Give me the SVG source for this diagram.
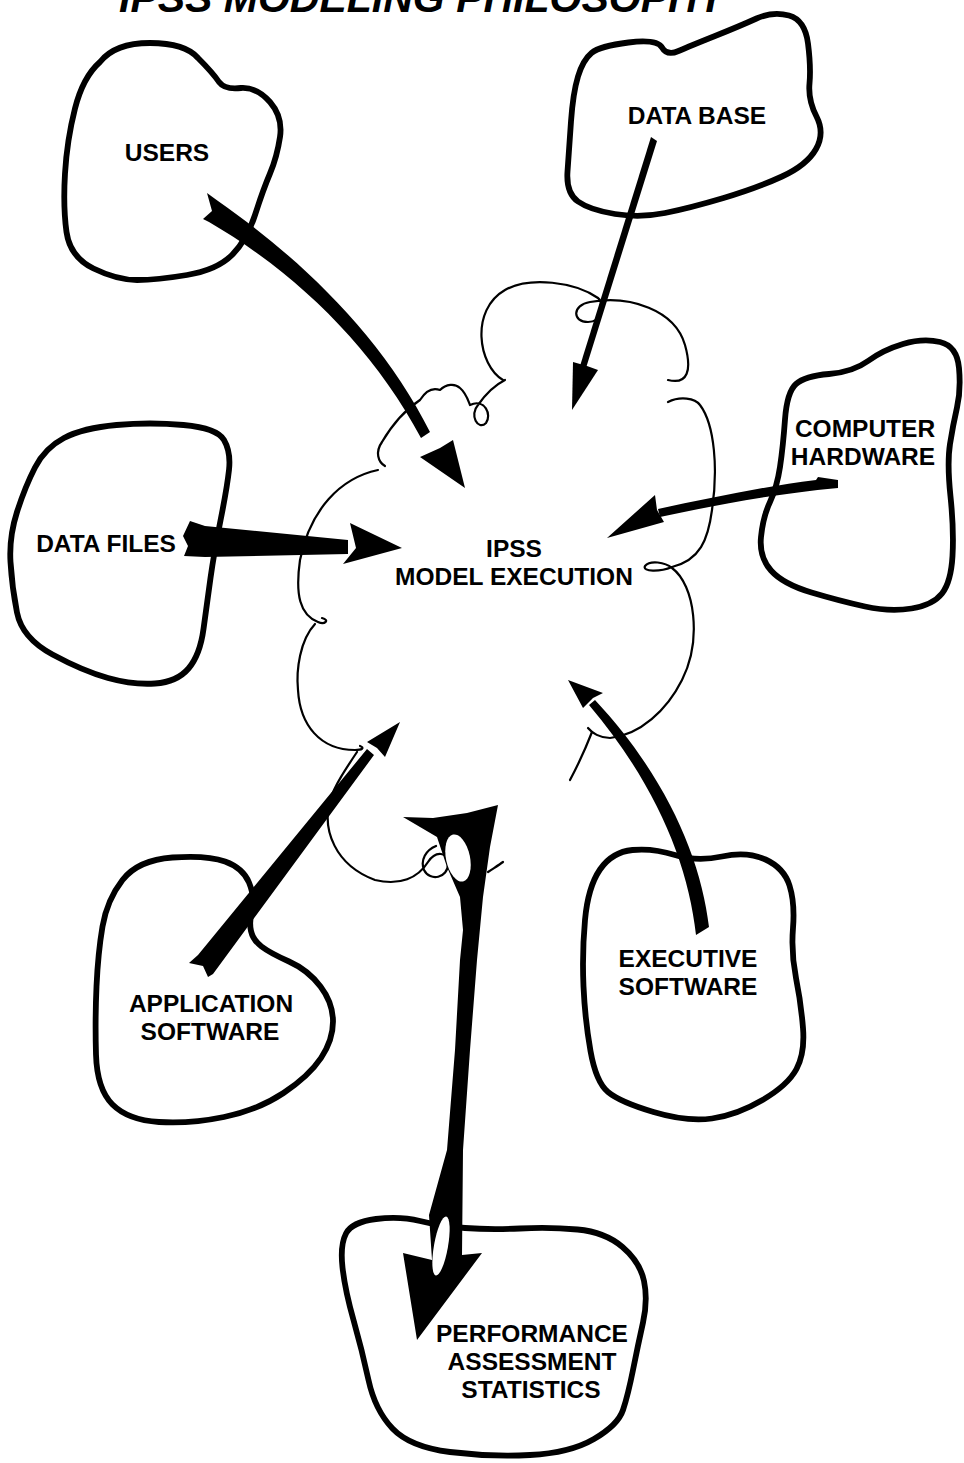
<svg xmlns="http://www.w3.org/2000/svg" width="964" height="1463" viewBox="0 0 964 1463">
<style>
.blob{fill:none;stroke:#000;stroke-width:5.8;stroke-linejoin:round}
.cloud{fill:none;stroke:#000;stroke-width:2.2;stroke-linecap:round;stroke-linejoin:round}
.arr{fill:#000;stroke:none}
.lbl{font-family:"Liberation Sans",Arial,sans-serif;font-weight:bold;font-size:24.5px;fill:#000;text-anchor:middle}
.title{font-family:"Liberation Sans",Arial,sans-serif;font-weight:bold;font-style:italic;font-size:41px;fill:#000;text-anchor:middle}
.spot{fill:#fff;stroke:none}
</style>
<rect x="0" y="0" width="964" height="1463" fill="#fff"/>
<text class="title" x="422" y="12">IPSS MODELING PHILOSOPHY</text>

<g id="cloud-center">
<path class="cloud" d="M503,380 C478,365 470,310 505,290 C530,276 575,282 598,298 C606,304 602,322 588,322 C572,322 572,305 590,302 C630,295 675,310 685,345 C692,370 688,385 668,380"/>
<path class="cloud" d="M668,402 C680,396 695,398 700,405 C715,425 718,470 712,510 C708,540 700,560 672,567 C660,572 642,572 645,566 C650,560 665,562 672,568 C695,585 702,640 682,680 C667,710 640,735 610,738 C600,738 592,733 588,728"/>
<path class="cloud" d="M592,732 C585,750 578,765 570,780"/>
<path class="cloud" d="M385,466 C378,462 375,452 382,442 C392,425 405,410 420,400 C425,392 432,387 440,390 C446,384 455,383 460,388 C466,393 468,400 470,405 C485,398 492,415 486,423 C478,431 469,415 478,405 C485,395 495,385 505,380"/>
<path class="cloud" d="M378,470 C340,478 310,510 300,560 C295,595 300,615 318,622 C325,625 330,620 322,618"/>
<path class="cloud" d="M315,624 C300,640 296,670 298,690 C300,725 320,750 355,750 C362,750 365,748 360,746"/>
<path class="cloud" d="M357,752 C345,770 335,785 330,800 C322,830 335,865 375,880 C400,886 418,878 428,862 C436,850 448,852 448,864 C448,878 430,882 424,870 C420,860 426,850 436,846"/>
<path class="cloud" d="M488,872 C494,868 499,865 503,862"/>
<text class="lbl" x="514" y="557">IPSS</text>
<text class="lbl" x="514" y="585">MODEL EXECUTION</text>
</g>

<g id="users">
<path class="blob" d="M100,62 Q115,43 150,43 Q185,43 198,58 Q213,73 219,82 Q225,90 241,88 Q257,87 270,102 Q283,117 280,137 Q277,157 270,173.5 Q263,190 255,215 Q247,240 232,255 Q217,270 187,275 Q157,280 137,280 Q117,280 93.5,268.5 Q70,257 66.5,232 Q63,207 65,173.5 Q67,140 75,108.5 Q83,77 100,62 Z"/>
<text class="lbl" x="167" y="161">USERS</text>
</g>

<g id="data-base">
<path class="blob" d="M591.5,53 Q600,46 628.5,42.5 Q657,39 662,47.5 Q667,56 678.5,51 Q690,46 715,36 Q740,26 756.5,18.5 Q773,11 789,15.5 Q805,20 808,43.5 Q811,67 809.5,83.5 Q808,100 816.5,116.5 Q825,133 816,149 Q807,165 782,176.5 Q757,188 723.5,198 Q690,208 665,213 Q640,218 615,214 Q590,210 578,201.5 Q566,193 567.5,171.5 Q569,150 571,121.5 Q573,93 578,76.5 Q583,60 591.5,53 Z"/>
<text class="lbl" x="697" y="124">DATA BASE</text>
</g>

<g id="computer-hardware">
<path class="blob" d="M796,384 Q805,376 829,374 Q853,372 868,361 Q883,350 903,344 Q923,338 940,342 Q957,346 959,368 Q961,390 957,407.5 Q953,425 950,444 Q947,463 950.5,496.5 Q954,530 952.5,556 Q951,582 942,593.5 Q933,605 911.5,608.5 Q890,612 865,606.5 Q840,601 811.5,592.5 Q783,584 771,570.5 Q759,557 761,537 Q763,517 770,502 Q777,487 780,467 Q783,447 785,419.5 Q787,392 796,384 Z"/>
<text class="lbl" x="865" y="437">COMPUTER</text>
<text class="lbl" x="863" y="465">HARDWARE</text>
</g>

<g id="data-files">
<path class="blob" d="M64,438 Q83,428 116.5,425 Q150,422 183.5,425 Q217,428 224,440 Q231,452 229,470 Q227,488 220.5,520.5 Q214,553 210.5,578 Q207,603 203.5,629 Q200,655 188.5,668.5 Q177,682 155,683.5 Q133,685 108,678 Q83,671 52.5,654.5 Q22,638 17,612.5 Q12,587 10.5,562 Q9,537 17,512 Q25,487 35,467.5 Q45,448 64,438 Z"/>
<text class="lbl" x="106" y="552">DATA FILES</text>
</g>

<g id="application-software">
<path class="blob" d="M122.5,880 Q138,860 172.5,857.5 Q207,855 225,861.5 Q243,868 249,882.5 Q255,897 252,909.5 Q249,922 251,931 Q253,940 261.5,946.5 Q270,953 289,961.5 Q308,970 320.5,986.5 Q333,1003 333,1021.5 Q333,1040 321,1058 Q309,1076 283.5,1093 Q258,1110 224,1117 Q190,1124 159,1122 Q128,1120 112.5,1104.5 Q97,1089 96,1054.5 Q95,1020 96.5,986.5 Q98,953 102.5,926.5 Q107,900 122.5,880 Z"/>
<text class="lbl" x="211" y="1012">APPLICATION</text>
<text class="lbl" x="210" y="1040">SOFTWARE</text>
</g>

<g id="executive-software">
<path class="blob" d="M600,869.5 Q612,852 632.5,850 Q653,848 675,855 Q697,862 722,856.5 Q747,851 765.5,859.5 Q784,868 789.5,885.5 Q795,903 793,928 Q791,953 796,978 Q801,1003 803,1028 Q805,1053 796.5,1069 Q788,1085 762.5,1100 Q737,1115 712,1118.5 Q687,1122 653.5,1112 Q620,1102 608,1092 Q596,1082 590.5,1051 Q585,1020 583.5,986.5 Q582,953 585,920 Q588,887 600,869.5 Z"/>
<text class="lbl" x="688" y="967">EXECUTIVE</text>
<text class="lbl" x="688" y="995">SOFTWARE</text>
</g>

<g id="performance-assessment-statistics">
<path class="blob" d="M376,1219 Q400,1216 420,1221 Q440,1226 465,1228 Q490,1230 520,1228.5 Q550,1227 577.5,1229.5 Q605,1232 622.5,1247 Q640,1262 644,1281 Q648,1300 643,1322.5 Q638,1345 633,1370 Q628,1395 623,1410 Q618,1425 594,1439 Q570,1453 530,1455 Q490,1457 450,1452 Q410,1447 392.5,1428.5 Q375,1410 368.5,1380 Q362,1350 353.5,1320 Q345,1290 342.5,1267.5 Q340,1245 346,1233.5 Q352,1222 376,1219 Z"/>
<text class="lbl" x="532" y="1342">PERFORMANCE</text>
<text class="lbl" x="532" y="1370">ASSESSMENT</text>
<text class="lbl" x="531" y="1398">STATISTICS</text>
</g>

<g id="connectors">
<!-- users -> model -->
<path class="arr" d="M207,193 L218,201 C300,258 382,336 430,432 L421,438 C372,346 295,272 209,222 L203,219 L212,211 Z"/>
<polygon class="arr" points="465,488 453,440 440,448 420,457"/>
<!-- data base -> model -->
<path class="arr" d="M651,137 L657,141 L586,368 L580,366 Z"/>
<polygon class="arr" points="572,410 598,370 587,366 573,362"/>
<!-- computer hardware -> model -->
<path class="arr" d="M838,480 L818,477 L816,480 C760,487 710,498 658,509 L660,517 C712,506 765,495 838,488 Z"/>
<polygon class="arr" points="607,538 655,495 657,510 664,522"/>
<!-- data files -> model -->
<path class="arr" d="M190,521 L205,526 L348,540 L348,554 L205,557 L184,556 L188,546 L183,536 Z"/>
<polygon class="arr" points="402,548 350,523 356,548 343,564"/>
<!-- application software -> model -->
<path class="arr" d="M189,963 L198,955 L367,749 L374,755 L213,974 L208,977 L203,966 Z"/>
<polygon class="arr" points="400,722 385,757 377,748 367,742"/>
<!-- executive software -> model -->
<path class="arr" d="M709,927 C701,858 666,776 595,700 L589,705 C655,783 688,862 696,935 Z"/>
<polygon class="arr" points="568,680 603,693 593,698 583,708"/>
<!-- model -> performance assessment statistics -->
<path class="arr" d="M403,817 L433,818 L467,813 L498,805 L490,847 L483,897 L477,960 L470,1050 L463,1150 L462,1255 L482,1253 L417,1340 L403,1253 L432,1260 L429,1215 L447,1150 L455,1050 L460,960 L463,930 L460,897 L447,867 L437,837 Z"/>
<ellipse class="spot" cx="458" cy="858" rx="12" ry="24" transform="rotate(-12 458 858)"/>
<ellipse class="spot" cx="441" cy="1246" rx="7" ry="30" transform="rotate(10 441 1246)"/>
</g>
</svg>
